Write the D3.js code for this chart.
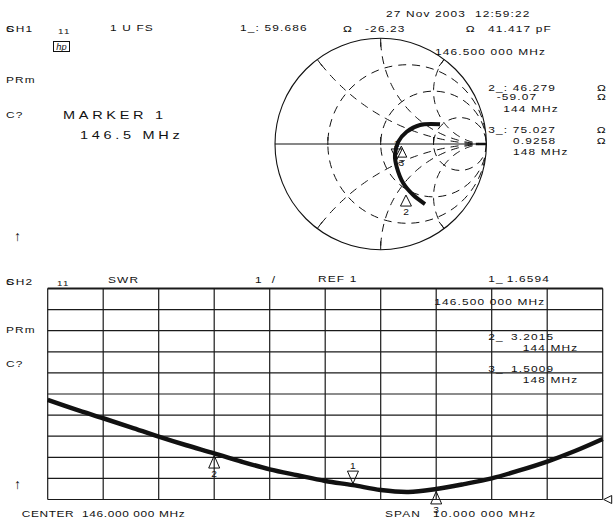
<!DOCTYPE html>
<html>
<head>
<meta charset="utf-8">
<script src="https://cdn.jsdelivr.net/npm/d3@7"></script>
<style>
  body { margin: 0; background: #fff; }
  text { font-family: "Liberation Sans", Arial, sans-serif; fill: #111; white-space: pre; }
</style>
</head>
<body>
<div id="chart"></div>
<script>
// SWR trace, channel 2 (MHz, SWR)
var swrFreq = [141, 141.5, 142, 142.5, 143, 143.5, 144, 144.5, 145, 145.5, 146,
  146.5, 147, 147.5, 148, 148.5, 149, 149.5, 150, 150.5, 151];
var swrValue = [5.72, 5.27, 4.85, 4.42, 3.98, 3.57, 3.19, 2.79, 2.43, 2.15, 1.88,
  1.68, 1.45, 1.36, 1.50, 1.73, 2.0, 2.38, 2.8, 3.3, 3.87];

// Smith trace, channel 1 (reflection coefficient, real / imag)
var smithRe = [0.419, 0.308, 0.214, 0.151, 0.135, 0.167, 0.246, 0.372, 0.561];
var smithIm = [-0.568, -0.483, -0.372, -0.215, -0.104, 0.022, 0.116, 0.18, 0.186];

// markers
var markerIds = ["1", "2", "3"];
var markerFreq = [146.5, 144, 148];
var markerSwr = [1.6594, 3.2015, 1.5009];
var markerRe = [0.151, 0.239, 0.195];
var markerIm = [-0.151, -0.483, -0.02];
var markerDir = ["down", "up", "up"];

// smith graticule
var resistanceCircles = [1 / 3, 1, 3];
var reactanceArcs = [0.5, 1, 2];
var axisTicks = [-0.5, 0, 0.5];

var svgWidth = 614;
var svgHeight = 522;

var svg = d3.select("#chart")
  .append("svg")
  .attr("width", svgWidth)
  .attr("height", svgHeight);

svg.append("rect").attr("width", svgWidth).attr("height", svgHeight).attr("fill", "#fff");

// plotter-like text: stretched a bit and spaced out
function label(x, y, s, o) {
  o = o || {};
  var size = o.size || 9.5;
  var t = svg.append("text")
    .attr("transform", `translate(${x},${y + size * 0.36}) scale(${o.sx || 1.25},1)`)
    .attr("font-size", size)
    .attr("letter-spacing", o.ls == null ? 0.93 : o.ls)
    .text(s);
  if (o.anchor) t.attr("text-anchor", o.anchor);
  if (o.italic) t.attr("font-style", "italic");
  return t;
}

function marker(x, y, dir, id, h) {
  h = h || 12;
  var w = 5.5;
  var base = dir == "up" ? y + h : y - h;
  svg.append("path")
    .attr("d", `M${x},${y}L${x - w},${base}L${x + w},${base}Z`)
    .attr("fill", "none")
    .attr("stroke", "#111")
    .attr("stroke-width", 1);
  var ly = dir == "up" ? base + 6 : base - 5;
  label(x, ly, id, {size: 8.5, anchor: "middle", ls: 0, sx: 1.2});
}

// ---------------- Smith chart ----------------
var cx = 380.7, cy = 144, R = 105.7;
var gx = d3.scaleLinear().domain([-1, 1]).range([cx - R, cx + R]);
var gy = d3.scaleLinear().domain([-1, 1]).range([cy + R, cy - R]);

svg.append("clipPath").attr("id", "unit")
  .append("circle").attr("cx", cx).attr("cy", cy).attr("r", R);

var smith = svg.append("g");
var dashed = smith.append("g").attr("clip-path", "url(#unit)")
  .attr("fill", "none").attr("stroke", "#111")
  .attr("stroke-width", 1).attr("stroke-dasharray", "8,6");

resistanceCircles.forEach(function(r) {
  dashed.append("circle")
    .attr("cx", gx(r / (r + 1)))
    .attr("cy", gy(0))
    .attr("r", gx(1 / (r + 1)) - gx(0));
});

var gLine = d3.line().x(d => gx(d[0])).y(d => gy(d[1]));

function arcPoints(xv) {
  var s = xv < 0 ? -1 : 1;
  var a = Math.abs(xv);
  var rad = 1 / a;
  var px = (a * a - 1) / (a * a + 1), py = 2 * a / (a * a + 1);
  var a0 = -Math.PI / 2;
  var a1 = Math.atan2(py - rad, px - 1);
  if (a1 > a0) a1 -= 2 * Math.PI;
  return d3.range(0, 81).map(function(i) {
    var t = a0 + (a1 - a0) * i / 80;
    return [1 + rad * Math.cos(t), s * (rad + rad * Math.sin(t))];
  });
}

reactanceArcs.forEach(function(xv) {
  [xv, -xv].forEach(function(v) {
    dashed.append("path").attr("d", gLine(arcPoints(v)));
    // tick on the outer circle
    var a = Math.abs(v);
    var px = (a * a - 1) / (a * a + 1), py = (v < 0 ? -1 : 1) * 2 * a / (a * a + 1);
    smith.append("line")
      .attr("x1", gx(px)).attr("y1", gy(py))
      .attr("x2", gx(px * 0.92)).attr("y2", gy(py * 0.92))
      .attr("stroke", "#111").attr("stroke-width", 1);
  });
});

smith.append("circle")
  .attr("cx", cx).attr("cy", cy).attr("r", R)
  .attr("fill", "none").attr("stroke", "#111").attr("stroke-width", 1.1);

smith.append("line")
  .attr("x1", gx(-1)).attr("x2", gx(1))
  .attr("y1", gy(0)).attr("y2", gy(0))
  .attr("stroke", "#111").attr("stroke-width", 1.1);

axisTicks.forEach(function(t) {
  smith.append("line")
    .attr("x1", gx(t)).attr("x2", gx(t))
    .attr("y1", gy(0) - 7).attr("y2", gy(0) + 1)
    .attr("stroke", "#111").attr("stroke-width", 1);
});

// reference mark at the right end
smith.append("line")
  .attr("x1", gx(0.9)).attr("x2", gx(1))
  .attr("y1", gy(0)).attr("y2", gy(0))
  .attr("stroke", "#111").attr("stroke-width", 2.5);

var smithPts = smithRe.map((d, i) => [d, smithIm[i]]);
smith.append("path")
  .attr("d", d3.line().x(d => gx(d[0])).y(d => gy(d[1])).curve(d3.curveCatmullRom)(smithPts))
  .attr("fill", "none").attr("stroke", "#111").attr("stroke-width", 4);

markerIds.forEach(function(id, i) {
  marker(gx(markerRe[i]), gy(markerIm[i]), markerDir[i], id, 11);
});

// ---------------- SWR grid ----------------
var x = d3.scaleLinear().domain([141, 151]).range([47.7, 602.7]);
var y = d3.scaleLinear().domain([1, 11]).range([499.5, 288.5]);

var grid = svg.append("g").attr("stroke", "#1a1a1a").attr("stroke-width", 1.2);
x.ticks(10).forEach(function(f) {
  grid.append("line").attr("x1", x(f)).attr("x2", x(f)).attr("y1", y(1)).attr("y2", y(11));
});
y.ticks(10).forEach(function(v) {
  grid.append("line").attr("y1", y(v)).attr("y2", y(v)).attr("x1", x(141)).attr("x2", x(151));
});
grid.append("line").attr("y1", y(11)).attr("y2", y(11)).attr("x1", x(141)).attr("x2", x(151))
  .attr("stroke-width", 1.8);

// reference level pointer
svg.append("path")
  .attr("d", `M${x(151) + 1},${y(1)}L${x(151) + 9},${y(1) - 4}L${x(151) + 9},${y(1) + 4}Z`)
  .attr("fill", "none").attr("stroke", "#111").attr("stroke-width", 1);

var swrLine = d3.line()
  .x((d, i) => x(swrFreq[i]))
  .y(d => y(d))
  .curve(d3.curveCatmullRom);

svg.append("path")
  .attr("d", swrLine(swrValue))
  .attr("fill", "none").attr("stroke", "#111").attr("stroke-width", 4.5);

markerIds.forEach(function(id, i) {
  var off = markerDir[i] == "up" ? 2.5 : -2;
  marker(x(markerFreq[i]), y(markerSwr[i]) + off, markerDir[i], id, 12.5);
});

// ---------------- text ----------------
// channel 1
label(6, 28.3, "CH1");
label(6, 28.3, "S", {ls: 0});
label(58, 31.7, "11", {size: 7.5, sx: 1.3, ls: 1});
svg.append("rect").attr("x", 53.5).attr("y", 41.5).attr("width", 16).attr("height", 10)
  .attr("fill", "none").attr("stroke", "#111").attr("stroke-width", 1);
label(61.5, 46.5, "hp", {size: 8.5, italic: true, anchor: "middle", ls: 0, sx: 1.1});
label(110, 28, "1 U FS");
label(240, 27.5, "1_: 59.686");
label(343, 28.3, "\u03a9", {ls: 0});
label(365, 28.3, "-26.23");
label(465.7, 28.3, "\u03a9", {ls: 0});
label(488, 28.3, "41.417 pF");
label(386, 13.3, "27 Nov 2003\u00a0\u00a012:59:22");
label(435, 51.7, "146.500 000 MHz");

label(488.3, 87.3, "2_: 46.279");
label(597, 87.3, "\u03a9", {ls: 0});
label(496.7, 96.7, "-59.07");
label(597, 96.7, "\u03a9", {ls: 0});
label(503.3, 108.3, "144 MHz");

label(488.3, 130, "3_: 75.027");
label(596.7, 130, "\u03a9", {ls: 0});
label(513, 140.3, "0.9258");
label(596.7, 140.3, "\u03a9", {ls: 0});
label(513, 151.7, "148 MHz");

label(6, 80, "PRm");
label(6, 115, "C?");
label(63, 115, "MARKER 1", {size: 11.6, ls: 2.96});
label(80, 135, "146.5 MHz", {size: 11.6, ls: 2.96});
label(14, 236, "\u2191", {size: 14, ls: 0, sx: 1});

// channel 2
label(6, 281.7, "CH2");
label(6, 281.7, "S", {ls: 0});
label(57, 283.5, "11", {size: 7.5, sx: 1.3, ls: 1});
label(108, 280, "SWR");
label(255, 280, "1\u00a0\u00a0/");
label(318, 278.3, "REF 1");
label(488.3, 278.3, "1_");
label(506.7, 278.3, "1.6594");
label(434.3, 302, "146.500 000 MHz");
label(488.3, 337, "2_");
label(511, 337, "3.2015");
label(578.3, 347.7, "144 MHz", {anchor: "end"});
label(488.3, 368.3, "3_");
label(511, 368.3, "1.5009");
label(578.3, 380, "148 MHz", {anchor: "end"});
label(6, 329.3, "PRm");
label(6, 363.3, "C?");
label(14, 484, "\u2191", {size: 14, ls: 0, sx: 1});

label(21.7, 514, "CENTER\u00a0\u00a0146.000 000 MHz", {ls: 0.5});
label(385, 514, "SPAN");
label(433, 514, "10.000 000 MHz");
</script>
</body>
</html>
